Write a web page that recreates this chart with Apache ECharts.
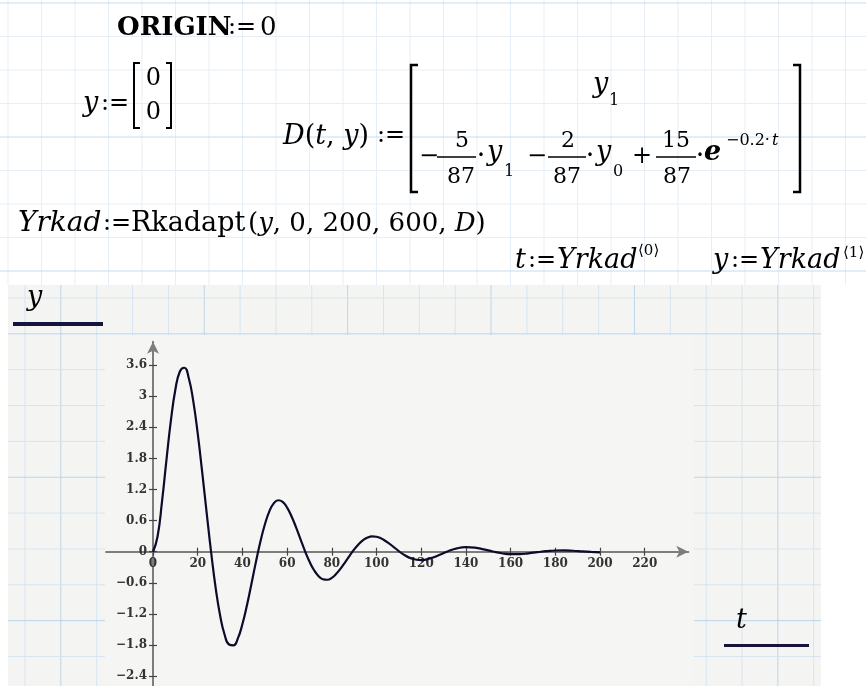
<!DOCTYPE html>
<html><head><meta charset="utf-8">
<script src="https://cdn.jsdelivr.net/npm/echarts@6/dist/echarts.min.js"></script>
<style>html,body{margin:0;padding:0;background:#fff}#c{width:866px;height:686px}</style>
</head><body><div id="c"></div>
<script>
// ---- data ----
const tValues = [0,2,4,6,8,10,12,14,16,18,20,22,24,26,28,30,32,34,36,38,40,42,44,46,48,50,
  52,54,56,58,60,62,64,66,68,70,72,74,76,78,80,82,84,86,88,90,92,94,96,98,100,
  104,108,112,116,120,124,128,132,136,140,144,148,152,156,160,164,168,172,176,180,184,188,192,196,200];
const yValues = [0,0.289,0.959,1.768,2.532,3.127,3.476,3.548,3.344,2.903,2.276,1.534,0.749,-0.014,-0.691,-1.225,
  -1.596,-1.789,-1.806,-1.667,-1.394,-1.037,-0.626,-0.205,0.188,0.521,0.774,0.933,0.993,0.962,0.851,0.679,0.468,
  0.239,0.013,-0.190,-0.352,-0.467,-0.530,-0.540,-0.503,-0.425,-0.321,-0.199,-0.074,0.044,0.146,0.223,0.274,0.295,0.288,
  0.208,0.079,-0.051,-0.136,-0.161,-0.129,-0.063,0.010,0.065,0.087,0.078,0.045,0.005,-0.029,-0.046,-0.046,-0.030,
  -0.009,0.011,0.024,0.026,0.019,0.008,-0.003,-0.012];
const xTickValues = [0,20,40,60,80,100,120,140,160,180,200,220];
const yTickValues = [-2.4,-1.8,-1.2,-0.6,0,0.6,1.2,1.8,2.4,3,3.6];

const SERIF = '"DejaVu Serif", "Liberation Serif", serif';
const els = [];
function T(x, y, s, size, st, align) {
  const a = align || 'left';
  els.push({type:'text', x:x, y:y, z:20, silent:true,
    style:{text:s, font:(st||'') + ' ' + size + 'px ' + SERIF, fill:'#000',
      align:a, textAlign:a, verticalAlign:'middle', textVerticalAlign:'middle'}});
}
function RT(x, y, s, size) {
  els.push({type:'text', x:x, y:y, z:20, silent:true,
    style:{text:s, fill:'#000', align:'left', textAlign:'left', verticalAlign:'middle', textVerticalAlign:'middle',
      font: size + 'px ' + SERIF,
      rich:{ i:{font:'italic ' + size + 'px ' + SERIF, fill:'#000'}, r:{font: size + 'px ' + SERIF, fill:'#000'} }}});
}
function PL(points, w) {
  els.push({type:'polyline', z:20, silent:true, shape:{points:points}, style:{stroke:'#000', lineWidth:w, fill:null}});
}
function LN(x1, y1, x2, y2, w, color, z) {
  els.push({type:'line', z:(z==null?20:z), silent:true, shape:{x1:x1,y1:y1,x2:x2,y2:y2}, style:{stroke:color||'#000', lineWidth:w}});
}
function RC(x, y, w, h, fill, z) {
  els.push({type:'rect', z:z, silent:true, shape:{x:x,y:y,width:w,height:h}, style:{fill:fill}});
}

// worksheet grid in the top area
for (let k = -2; k < 24; k++) {
  const x = 75 + 33.5 * k;
  if (x > 0 && x < 866) LN(x, 0, x, 285, 1, '#e6eff7', -9);
}
for (let k = -4; k < 5; k++) {
  const y = 137 + 33.5 * k;
  if (y > 0 && y < 285) LN(0, y, 866, y, 1, k % 4 === 0 ? '#c6ddef' : '#e6eff7', -9);
}
// plot panel
RC(8, 285, 813, 401, '#f4f5f3', -8);
for (let k = 0; k <= 22; k++) {
  const x = 25 + 35.85 * k;
  LN(x, 285, x, 686, 1, k % 4 === 1 ? '#bcd5e9' : '#d6e5f0', -7);
}
for (let k = 0; k <= 10; k++) {
  const y = 298 + 35.85 * k;
  LN(8, y, 821, y, 1, k % 4 === 1 ? '#bcd5e9' : '#d6e5f0', -7);
}
RC(105, 335, 589, 351, '#f5f6f4', -6);

// formulas
T(117, 28, 'ORIGIN', 26, 'bold');
T(228, 28, ':=', 24);
T(260, 28, '0', 26);

T(83, 104, 'y', 27, 'italic');
T(101, 104, ':=', 24);
T(153.5, 79, '0', 24, '', 'center');
T(153.5, 113, '0', 24, '', 'center');
PL([[140,63],[134,63],[134,128],[140,128]], 2);
PL([[166,63],[171,63],[171,128],[166,128]], 2);

RT(283, 137, '{i|D}{r|(}{i|t}{r|, }{i|y}{r|)}', 27);
T(377, 136, ':=', 24);
PL([[418,65],[411,65],[411,192],[418,192]], 2.5);
PL([[793,65],[800,65],[800,192],[793,192]], 2.5);

T(593, 85, 'y', 27, 'italic');
T(609, 101, '1', 16);

T(419, 157, '−', 24);
LN(437, 157, 476, 157, 1.5);
T(462, 141, '5', 22, '', 'center');
T(461, 177, '87', 22, '', 'center');
T(481, 157, '·', 27, '', 'center');
T(487, 153, 'y', 27, 'italic');
T(504, 172, '1', 16);
T(527, 157, '−', 24);
LN(548, 157, 586, 157, 1.5);
T(568, 141, '2', 22, '', 'center');
T(567, 177, '87', 22, '', 'center');
T(590, 157, '·', 27, '', 'center');
T(596, 153, 'y', 27, 'italic');
T(613, 172, '0', 16);
T(632, 157, '+', 24);
LN(656, 157, 696, 157, 1.5);
T(676, 141, '15', 22, '', 'center');
T(677, 177, '87', 22, '', 'center');
T(700, 157, '·', 27, '', 'center');
T(704, 153, 'e', 27, 'italic bold');
T(726, 141, '−0.2·', 16);
T(772, 141, 't', 16, 'italic');

T(18, 224, 'Yrkad', 28, 'italic');
T(103, 224, ':=', 24);
T(131, 224, 'Rkadapt', 27);
RT(248, 224, '{r|(}{i|y}{r|, 0, 200, 600, }{i|D}{r|)}', 26);

T(515, 261, 't', 27, 'italic');
T(528, 261, ':=', 24);
T(557, 261, 'Yrkad', 27, 'italic');
T(638, 251, '⟨0⟩', 15);
T(713, 261, 'y', 27, 'italic');
T(731, 261, ':=', 24);
T(760, 261, 'Yrkad', 27, 'italic');
T(843, 253, '⟨1⟩', 15);

// axis names
T(27, 298, 'y', 27, 'italic');
RC(13, 322, 90, 4, '#14143c', 20);
T(736, 621, 't', 27, 'italic');
RC(724, 644, 85, 3, '#14143c', 20);

const fmt = v => String(v).replace('-', '\u2212');
const labelStyle = {fontFamily: SERIF, fontWeight: 'bold', fontSize: 12, color: '#333'};
const axisGrey = '#7d7d7d';

// grid geometry: x 0 -> 153 px, 2.235 px/unit; y 0 -> 551.7 px, 51.86 px/unit
const gLeft = 106.1, gRight = 177.7, gTop = 341.7, gBottom = -21.3;
const xZeroFromLeft = 153 - gLeft;          // offset of y axis into the grid
const yZeroFromBottom = (686 - gBottom) - 551.7; // offset of x axis into the grid
const yZeroFromTop = 551.7 - gTop;
const xZeroFromRight = (866 - gRight) - 153;

const option = {
  animation: false,
  backgroundColor: '#ffffff',
  grid: {left: gLeft, right: gRight, top: gTop, bottom: gBottom, containLabel: false, outerBoundsMode: 'none'},
  xAxis: [
    {type: 'value', min: -21, max: 239.5, position: 'bottom', offset: -yZeroFromBottom,
     axisLine: {show: true, onZero: false, symbol: ['none', 'arrow'], symbolSize: [9, 12],
       lineStyle: {color: axisGrey, width: 2}},
     axisTick: {show: true, length: 4, customValues: xTickValues, lineStyle: {color: '#444', width: 1.2}},
     axisLabel: Object.assign({show: true, margin: 6, customValues: xTickValues, formatter: fmt}, labelStyle),
     splitLine: {show: false}},
    {type: 'value', min: -21, max: 239.5, position: 'top', offset: -yZeroFromTop,
     axisLine: {show: false, onZero: false},
     axisTick: {show: true, length: 4, customValues: xTickValues, lineStyle: {color: '#444', width: 1.2}},
     axisLabel: {show: false},
     splitLine: {show: false}}
  ],
  yAxis: [
    {type: 'value', min: -3, max: 4.05, position: 'left', offset: -xZeroFromLeft,
     axisLine: {show: true, onZero: false, symbol: ['none', 'arrow'], symbolSize: [9, 12],
       lineStyle: {color: axisGrey, width: 2}},
     axisTick: {show: true, length: 4, customValues: yTickValues, lineStyle: {color: '#444', width: 1.2}},
     axisLabel: Object.assign({show: true, margin: 6, customValues: yTickValues, formatter: fmt}, labelStyle),
     splitLine: {show: false}},
    {type: 'value', min: -3, max: 4.05, position: 'right', offset: -xZeroFromRight,
     axisLine: {show: false, onZero: false},
     axisTick: {show: true, length: 4, customValues: yTickValues, lineStyle: {color: '#444', width: 1.2}},
     axisLabel: {show: false},
     splitLine: {show: false}}
  ],
  graphic: {elements: els},
  series: [{
    type: 'line', xAxisIndex: 0, yAxisIndex: 0, z: 5,
    data: tValues.map((t, i) => [t, yValues[i]]),
    smooth: true, showSymbol: false, symbol: 'none',
    lineStyle: {color: '#0b0b2a', width: 2.2}
  }]
};
const chart = echarts.init(document.getElementById('c'), null, {renderer: 'canvas'});
chart.setOption(option);
</script></body></html>
